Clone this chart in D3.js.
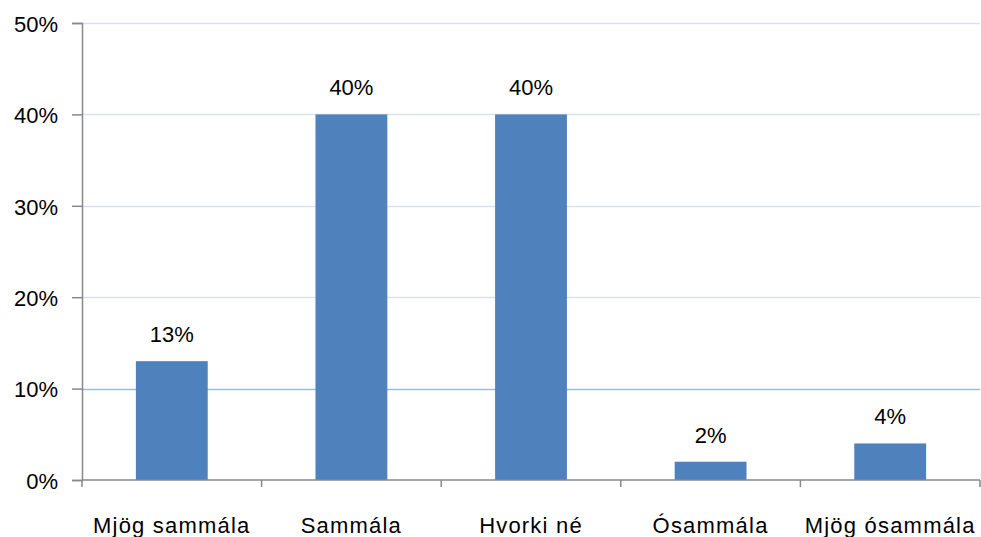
<!DOCTYPE html>
<html>
<head>
<meta charset="utf-8">
<script src="https://cdn.jsdelivr.net/npm/d3@7"></script>
<style>
  body { margin: 0; background: #fff; }
  svg text { font-family: "Liberation Sans", Arial, sans-serif; fill: #000; }
</style>
</head>
<body>
<svg id="chart" width="981" height="537"></svg>
<script>
var categories = ["Mjög sammála", "Sammála", "Hvorki né", "Ósammála", "Mjög ósammála"];
var values = [13, 40, 40, 2, 4];
var yTicks = [0, 10, 20, 30, 40, 50];

var svg = d3.select("#chart"),
  MARGINS = { top: 23, right: 1, bottom: 57, left: 82 },
  WIDTH = 981,
  HEIGHT = 537;

var x = d3.scaleBand()
  .domain(categories)
  .range([MARGINS.left, WIDTH - MARGINS.right])
  .paddingInner(0.6)
  .paddingOuter(0.3);

var y = d3.scaleLinear()
  .domain([0, 50])
  .range([HEIGHT - MARGINS.bottom, MARGINS.top]);

// gridlines
svg.append("g")
  .selectAll("line")
  .data(yTicks.filter(function (d) { return d > 0; }))
  .enter().append("line")
  .attr("x1", MARGINS.left)
  .attr("x2", WIDTH - MARGINS.right)
  .attr("y1", function (d) { return Math.round(y(d)) + 0.5; })
  .attr("y2", function (d) { return Math.round(y(d)) + 0.5; })
  .attr("stroke", function (d) { return d === 10 ? "#9DBAE4" : "#D9E1F1"; })
  .attr("stroke-width", 1.5);

// bars
svg.append("g")
  .selectAll("rect")
  .data(values)
  .enter().append("rect")
  .attr("x", function (d, i) { return x(categories[i]); })
  .attr("y", function (d) { return y(d); })
  .attr("width", x.bandwidth())
  .attr("height", function (d) { return y(0) - y(d); })
  .attr("fill", "#4F81BD");

// value labels
svg.append("g")
  .selectAll("text")
  .data(values)
  .enter().append("text")
  .attr("x", function (d, i) { return x(categories[i]) + x.bandwidth() / 2; })
  .attr("y", function (d) { return y(d) - 19; })
  .attr("text-anchor", "middle")
  .attr("font-size", 22)
  .text(function (d) { return d + "%"; });

// y axis
var yAxis = svg.append("g")
  .attr("transform", "translate(" + MARGINS.left + ",0)")
  .call(d3.axisLeft(y).tickValues(yTicks).tickSize(10).tickPadding(14)
    .tickFormat(function (d) { return d + "%"; }));
yAxis.select(".domain").attr("stroke", "#898989").attr("stroke-width", 1.5);
yAxis.selectAll(".tick line").attr("stroke", "#898989").attr("stroke-width", 1.5);
yAxis.selectAll(".tick text").attr("font-size", 22).attr("fill", "#000").attr("dy", "0.38em");

// x axis
var xAxis = svg.append("g")
  .attr("transform", "translate(0," + y(0) + ")");
xAxis.append("line")
  .attr("x1", MARGINS.left)
  .attr("x2", WIDTH - MARGINS.right)
  .attr("stroke", "#898989")
  .attr("stroke-width", 1.5);
var edges = categories.map(function (c) { return x(c) - (x.step() - x.bandwidth()) / 2; });
edges.push(edges[edges.length - 1] + x.step());
xAxis.selectAll(".xtick")
  .data(edges)
  .enter().append("line")
  .attr("x1", function (d) { return d; })
  .attr("x2", function (d) { return d; })
  .attr("y1", 0)
  .attr("y2", 7)
  .attr("stroke", "#898989")
  .attr("stroke-width", 1.5);
xAxis.selectAll(".xlabel")
  .data(categories)
  .enter().append("text")
  .attr("x", function (d) { return x(d) + x.bandwidth() / 2; })
  .attr("y", 53)
  .attr("text-anchor", "middle")
  .attr("font-size", 22)
  .attr("letter-spacing", 1.2)
  .text(function (d) { return d; });
</script>
</body>
</html>
